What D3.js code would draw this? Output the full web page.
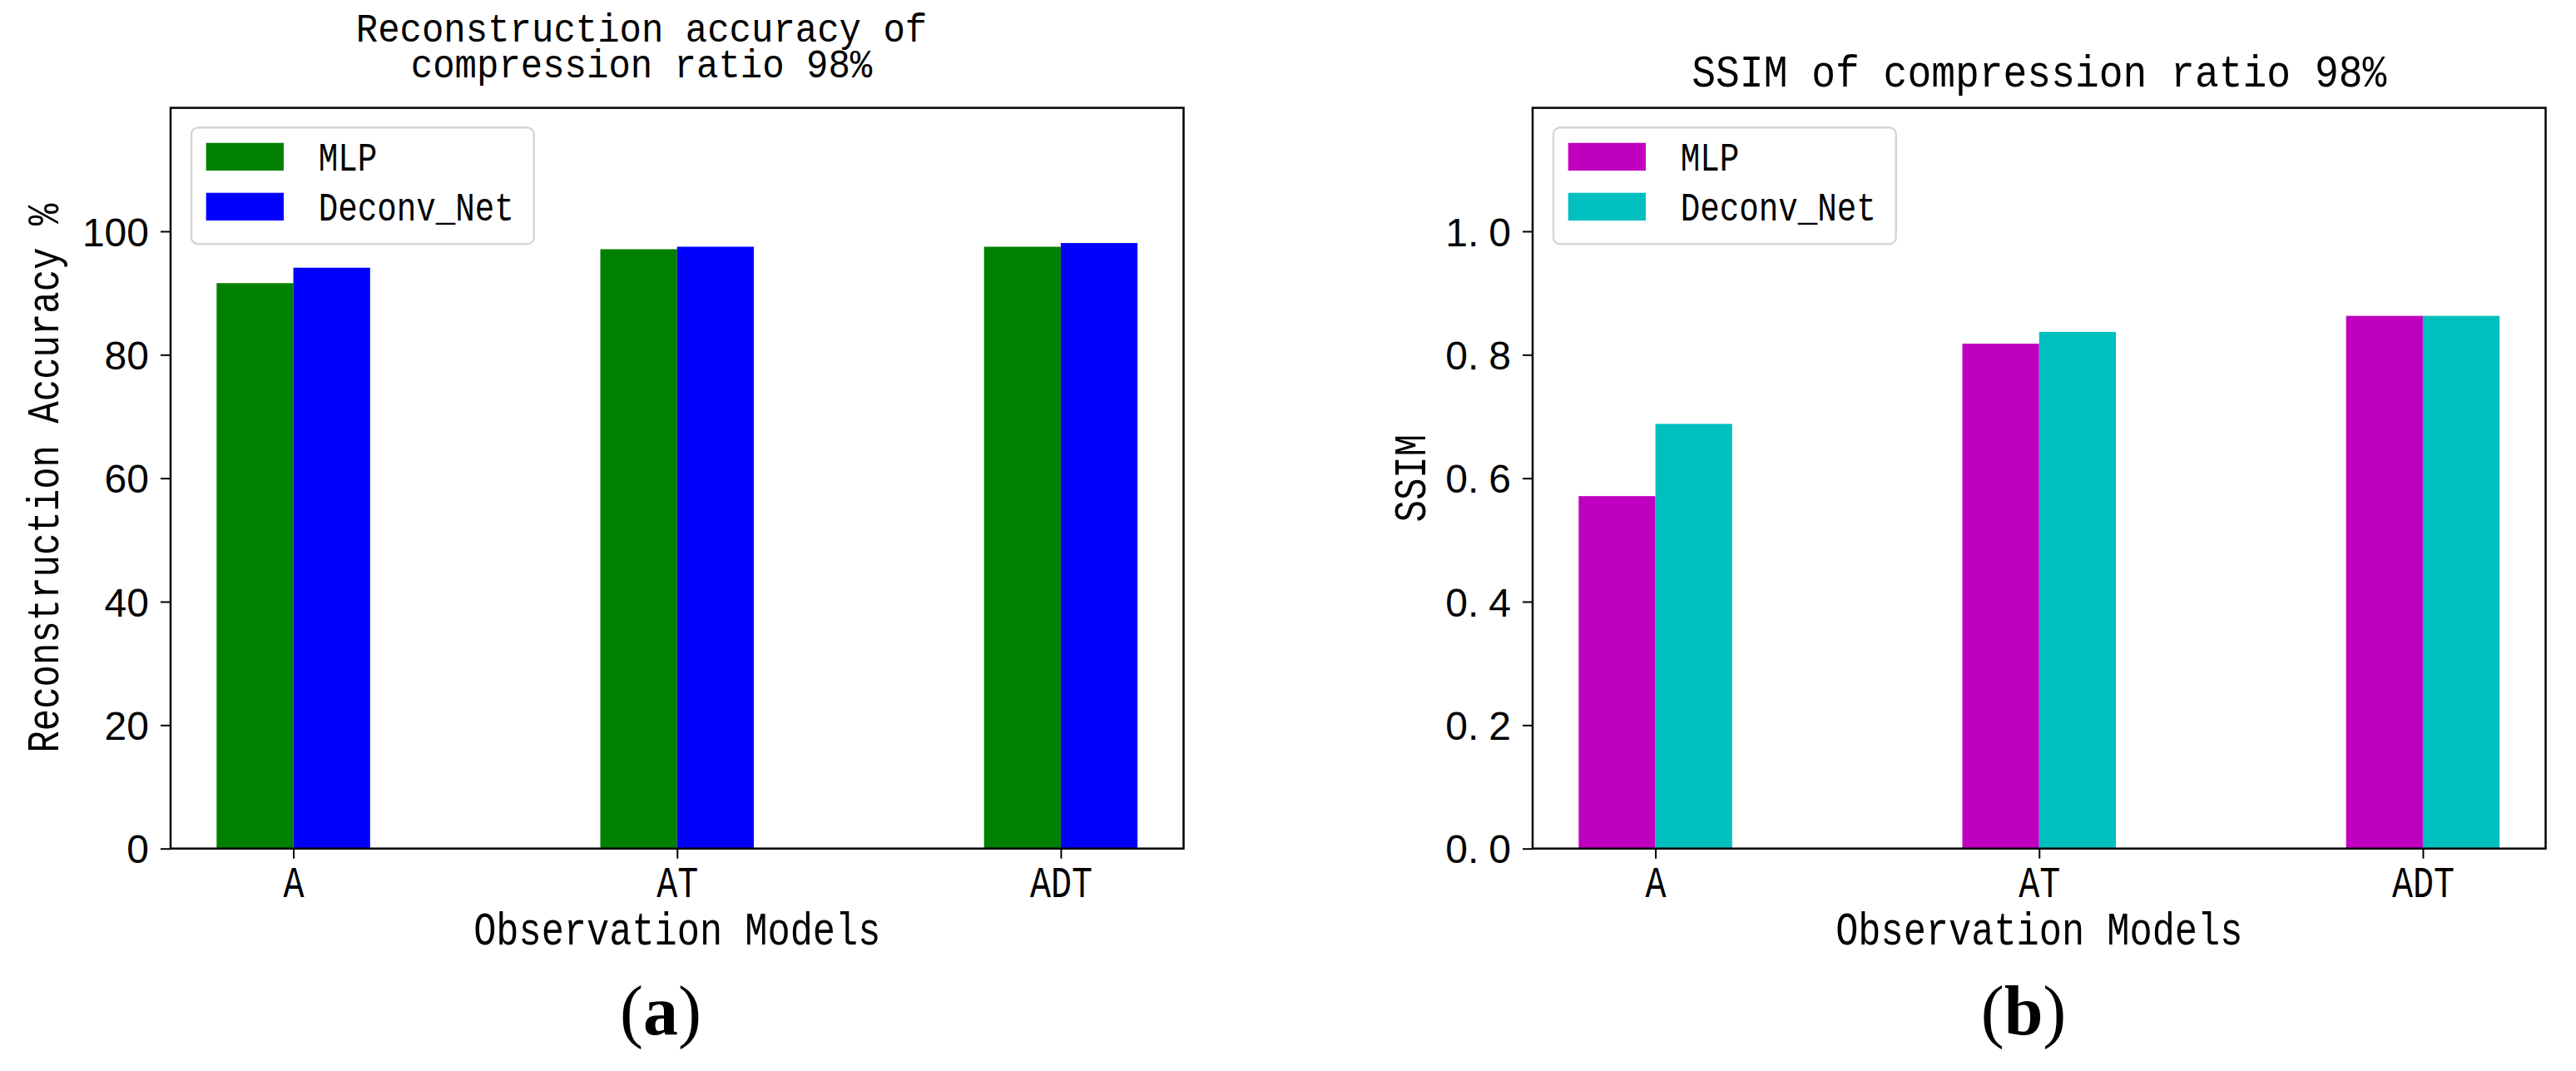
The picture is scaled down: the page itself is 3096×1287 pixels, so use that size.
<!DOCTYPE html>
<html>
<head>
<meta charset="utf-8">
<script src="https://cdn.jsdelivr.net/npm/d3@7"></script>
<style>
  html, body { margin: 0; padding: 0; background: #fff; }
  svg { display: block; }
</style>
</head>
<body>
<script>
// ---------------- data ----------------
const categories = ["A", "AT", "ADT"];
const seriesNames = ["MLP", "Deconv_Net"];
const accMLP = [91.6, 97.1, 97.5];
const accDeconv = [94.1, 97.5, 98.1];
const ssimMLP = [0.571, 0.818, 0.863];
const ssimDeconv = [0.688, 0.837, 0.863];
const accTicks = [0, 20, 40, 60, 80, 100];
const ssimTicks = [0, 0.2, 0.4, 0.6, 0.8, 1.0];
const titlesA = ["Reconstruction accuracy of", "compression ratio 98%"];
const titlesB = ["SSIM of compression ratio 98%"];
const xLabel = "Observation Models";
const yLabelA = "Reconstruction Accuracy %";
const yLabelB = "SSIM";
const panelTags = ["a", "b"];

// ---------------- layout ----------------
const W = 3096, H = 1287;
const MONO = "'Liberation Mono', 'DejaVu Sans Mono', monospace";
const SANS = "'Liberation Sans', Arial, sans-serif";
const SERIF = "'Liberation Serif', 'Times New Roman', serif";

const svg = d3.select("body").append("svg")
  .attr("width", W).attr("height", H)
  .attr("viewBox", `0 0 ${W} ${H}`);
svg.append("rect").attr("width", W).attr("height", H).attr("fill", "#fff");

function stretchedText(g, x, y, str, size, k, anchor, rotate) {
  const rot = rotate ? ` rotate(${rotate})` : "";
  return g.append("text")
    .attr("transform", `translate(${x},${y})${rot} scale(1,${k})`)
    .attr("font-family", MONO)
    .attr("font-size", size)
    .attr("text-anchor", anchor || "middle")
    .attr("fill", "#000")
    .text(str);
}

function panel(opts) {
  const { x0, x1, yTop, yBot, yMax, ticks, s1, s2, colors, titleLines, titleSize, titleBase, titleGap, titleX,
          yLabel, yLabelX, tag, tagX, decimalTicks } = opts;
  const g = svg.append("g");
  const x = d3.scaleLinear().domain([-0.32, 2.32]).range([x0, x1]);
  const y = d3.scaleLinear().domain([0, yMax]).range([yBot, yTop]);
  const bw = 0.2;

  // bars
  const data = categories.map((c, i) => ({ i, v1: s1[i], v2: s2[i] }));
  g.selectAll("rect.s1").data(data).enter().append("rect")
    .attr("x", d => x(d.i - bw)).attr("width", d => x(d.i) - x(d.i - bw))
    .attr("y", d => y(d.v1)).attr("height", d => y(0) - y(d.v1))
    .attr("fill", colors[0]);
  g.selectAll("rect.s2").data(data).enter().append("rect")
    .attr("x", d => x(d.i)).attr("width", d => x(d.i + bw) - x(d.i))
    .attr("y", d => y(d.v2)).attr("height", d => y(0) - y(d.v2))
    .attr("fill", colors[1]);

  // frame
  g.append("rect").attr("x", x0).attr("y", yTop).attr("width", x1 - x0).attr("height", yBot - yTop)
    .attr("fill", "none").attr("stroke", "#000").attr("stroke-width", 2.5);

  // x axis
  const xa = g.append("g").attr("transform", `translate(0,${yBot})`)
    .call(d3.axisBottom(x).tickValues([0, 1, 2]).tickFormat(i => categories[i]).tickSize(12).tickPadding(0));
  xa.select(".domain").remove();
  xa.selectAll(".tick line").attr("stroke", "#000").attr("stroke-width", 2);
  xa.selectAll(".tick text")
    .attr("y", null).attr("dy", null)
    .attr("transform", "translate(0,58) scale(1,1.27)")
    .attr("font-family", MONO).attr("font-size", 41.7).attr("fill", "#000");

  // y axis
  const ya = g.append("g").attr("transform", `translate(${x0},0)`)
    .call(d3.axisLeft(y).tickValues(ticks).tickSize(12).tickPadding(14)
      .tickFormat(d => decimalTicks ? d.toFixed(1) : String(d)));
  ya.select(".domain").remove();
  ya.selectAll(".tick line").attr("stroke", "#000").attr("stroke-width", 2);
  ya.selectAll(".tick text")
    .attr("font-family", SANS).attr("font-size", 48).attr("fill", "#000").attr("dy", "0.36em");
  if (decimalTicks) {
    ya.selectAll(".tick text").each(function (d) {
      const s = d.toFixed(1).split(".");
      const t = d3.select(this).text(null);
      t.append("tspan").text(s[0] + ".");
      t.append("tspan").attr("dx", 12).text(s[1]);
    });
  }

  // title (one text element, one tspan per line)
  const k = 1.1;
  const firstBase = titleBase - (titleLines.length - 1) * titleGap;
  const tt = g.append("text")
    .attr("transform", `translate(${titleX},${firstBase}) scale(1,${k})`)
    .attr("font-family", MONO).attr("font-size", titleSize)
    .attr("text-anchor", "middle").attr("fill", "#000");
  titleLines.forEach((line, li) => {
    tt.append("tspan").attr("x", 0).attr("y", li * titleGap / k).text(line);
  });

  // axis labels
  const cx = (x0 + x1) / 2;
  stretchedText(g, cx, 1135, xLabel, 45.3, 1.24, "middle");
  stretchedText(g, yLabelX, (yTop + yBot) / 2, yLabel, 44, 1.24, "middle", -90);

  // legend
  const lx = x0 + 25, ly = 153.3;
  const lg = g.append("g");
  lg.append("rect").attr("x", lx).attr("y", ly).attr("width", 411.7).attr("height", 140)
    .attr("rx", 8).attr("fill", "#fff").attr("fill-opacity", 0.8)
    .attr("stroke", "#d6d6d6").attr("stroke-width", 2.5);
  seriesNames.forEach((nm, kk) => {
    lg.append("rect").attr("x", lx + 17.7).attr("y", ly + 18.4 + kk * 60)
      .attr("width", 93.3).attr("height", 33.3).attr("fill", colors[kk]);
    stretchedText(lg, lx + 152.7, ly + 51.7 + kk * 60, nm, 39.2, 1.23, "start");
  });

  // panel tag
  const t = svg.append("text").attr("x", tagX).attr("y", 1243)
    .attr("font-family", SERIF).attr("font-size", 84).attr("text-anchor", "middle").attr("fill", "#000");
  t.append("tspan").text("(");
  t.append("tspan").attr("font-weight", "bold").text(tag);
  t.append("tspan").text(")");
}

panel({
  x0: 205, x1: 1422.5, yTop: 129.6, yBot: 1019.7, yMax: 120, ticks: accTicks,
  s1: accMLP, s2: accDeconv, colors: ["#008000", "#0000ff"],
  titleLines: titlesA, titleSize: 44, titleBase: 93, titleGap: 43, titleX: 771,
  yLabel: yLabelA, yLabelX: 70, tag: panelTags[0], tagX: 794, decimalTicks: false
});
panel({
  x0: 1842, x1: 3059.5, yTop: 129.6, yBot: 1019.7, yMax: 1.2, ticks: ssimTicks,
  s1: ssimMLP, s2: ssimDeconv, colors: ["#bf00bf", "#00bfbf"],
  titleLines: titlesB, titleSize: 48, titleBase: 104, titleGap: 0, titleX: 2450.75,
  yLabel: yLabelB, yLabelX: 1713, tag: panelTags[1], tagX: 2432, decimalTicks: true
});
</script>
</body>
</html>
